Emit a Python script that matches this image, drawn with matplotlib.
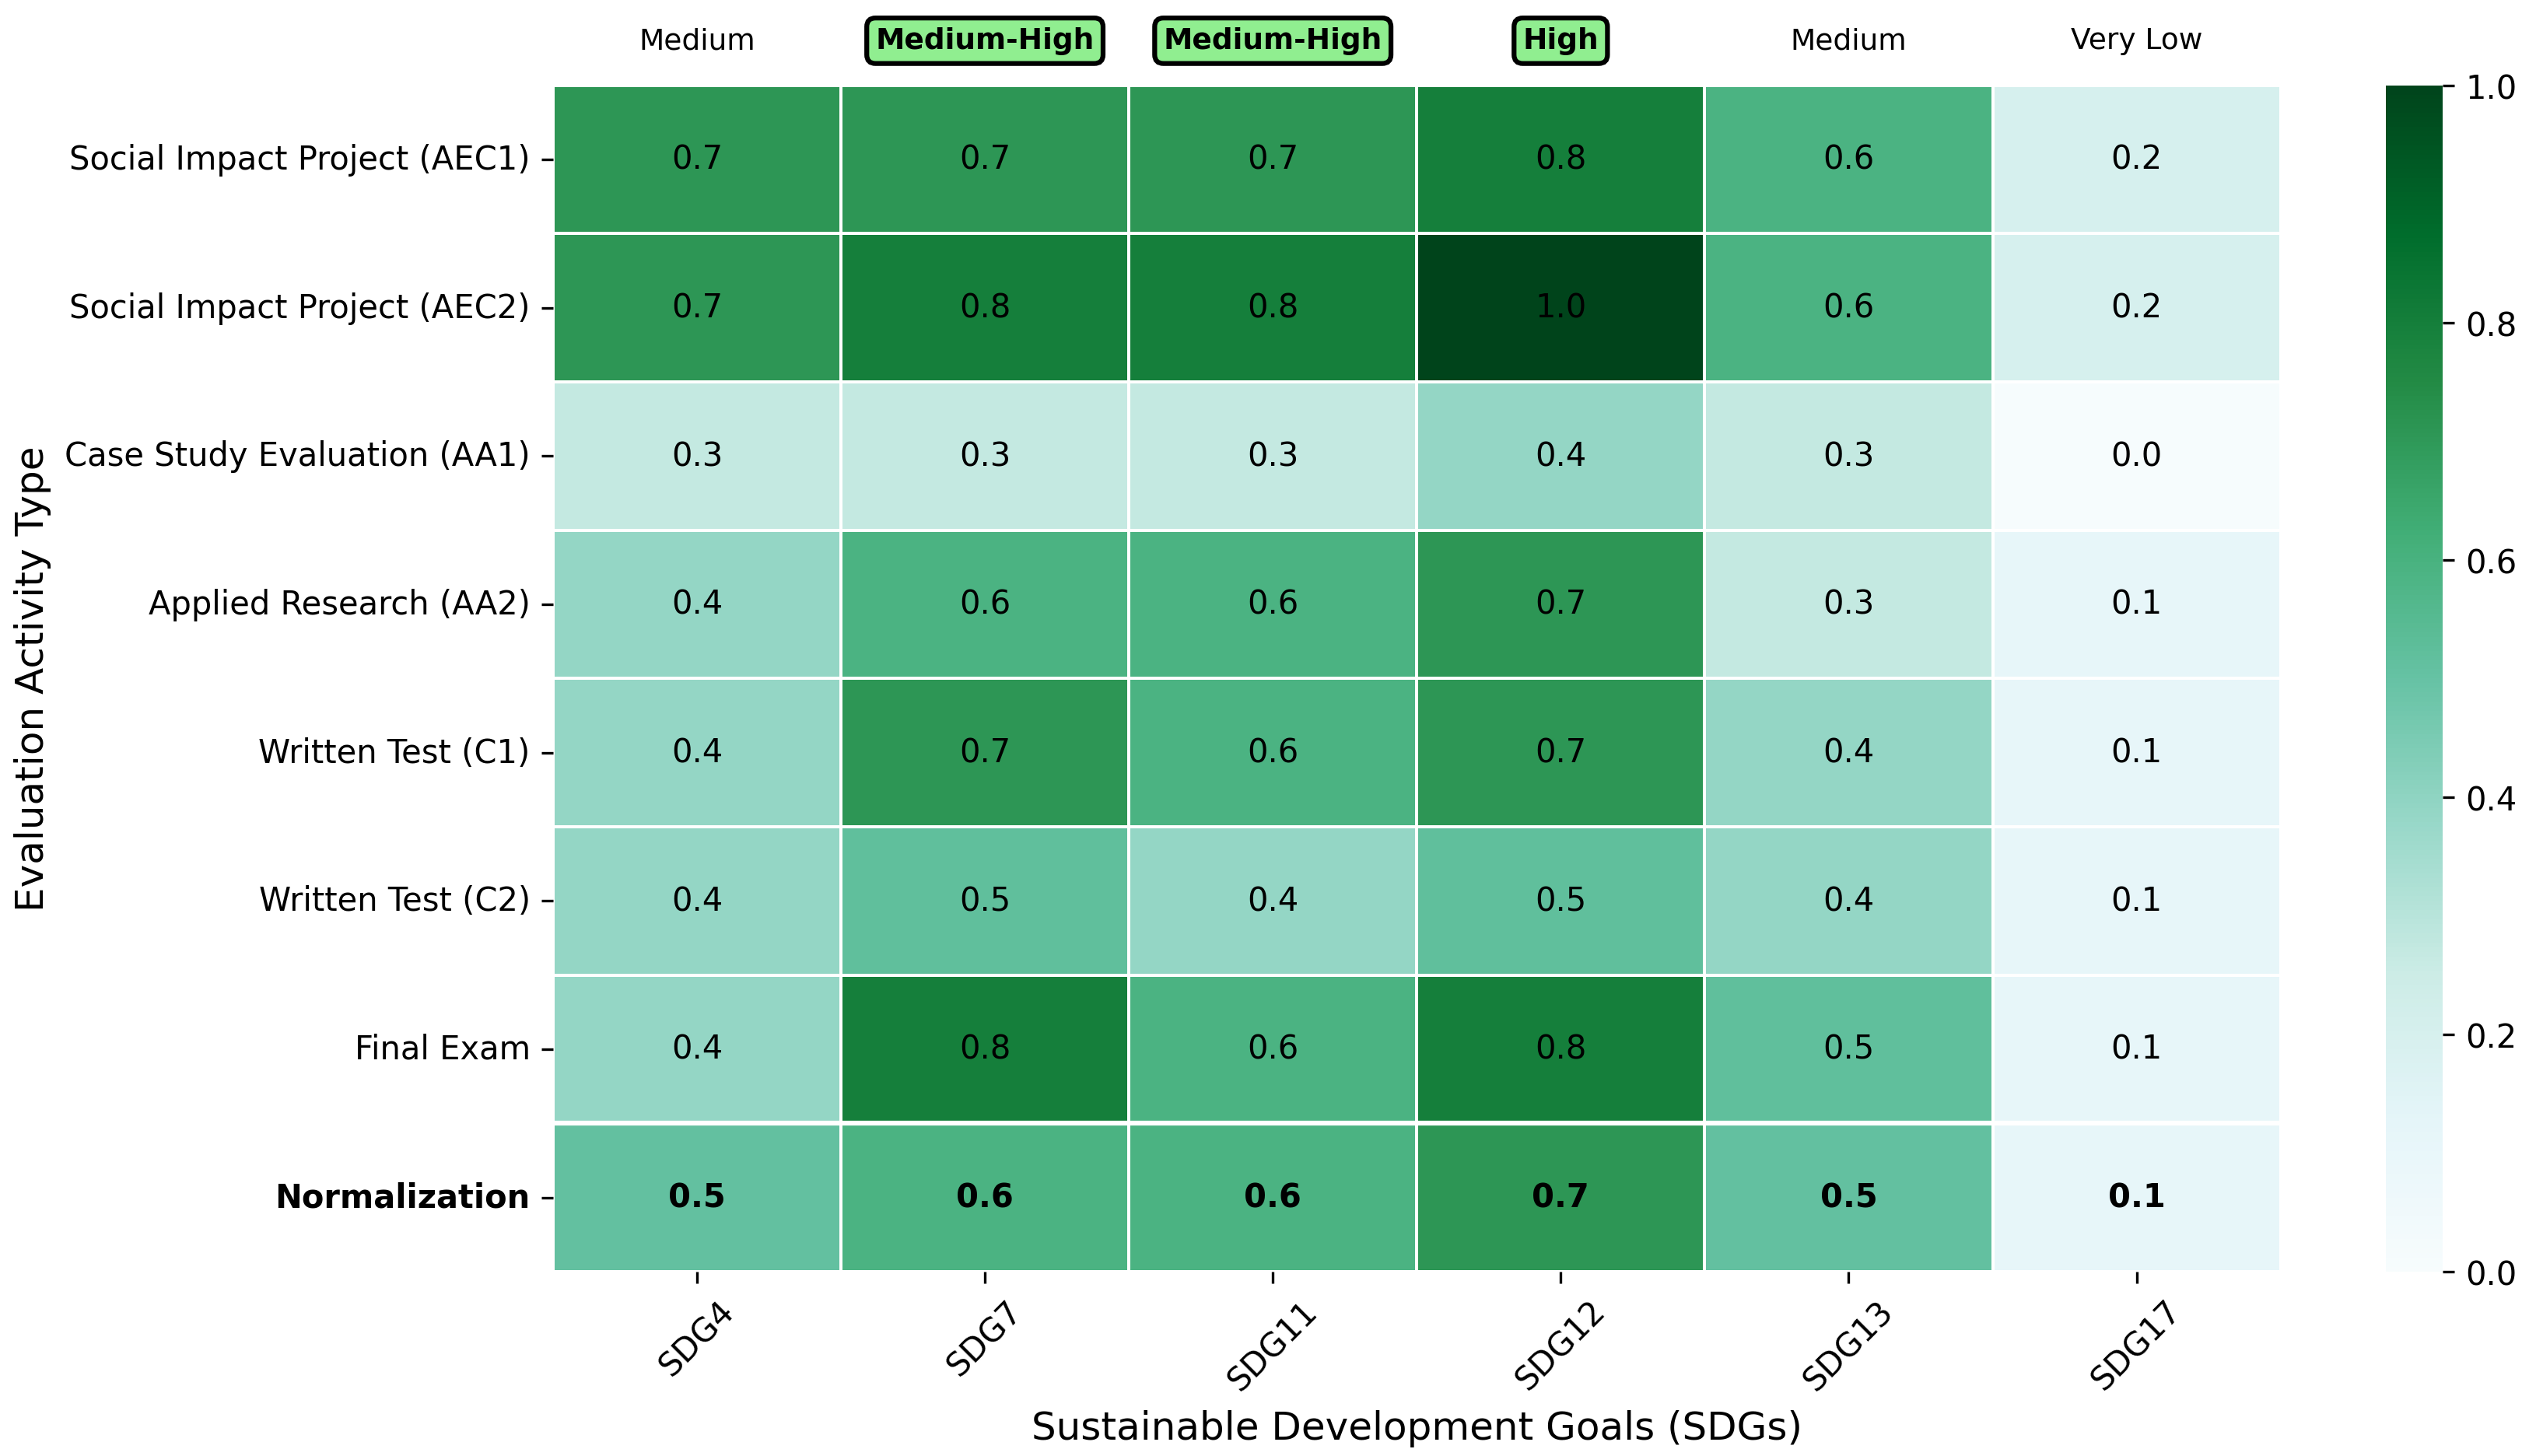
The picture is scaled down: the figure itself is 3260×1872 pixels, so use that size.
import numpy as np
import pandas as pd
import matplotlib
matplotlib.use("Agg")
import matplotlib.pyplot as plt
import seaborn as sns

# datos
actividades = ['Social Impact Project (AEC1)', 'Social Impact Project (AEC2)',
               'Case Study Evaluation (AA1)', 'Applied Research (AA2)',
               'Written Test (C1)', 'Written Test (C2)', 'Final Exam', 'Normalization']
ods = ['SDG4', 'SDG7', 'SDG11', 'SDG12', 'SDG13', 'SDG17']

aec1 = [0.71, 0.71, 0.71, 0.80, 0.59, 0.20]
aec2 = [0.71, 0.80, 0.80, 1.00, 0.59, 0.20]
aa1 = [0.27, 0.27, 0.27, 0.39, 0.27, 0.01]
aa2 = [0.39, 0.59, 0.59, 0.71, 0.27, 0.11]
c1 = [0.39, 0.71, 0.59, 0.71, 0.39, 0.11]
c2 = [0.39, 0.52, 0.39, 0.52, 0.39, 0.11]
final = [0.39, 0.80, 0.59, 0.80, 0.52, 0.11]
normalizacion = [0.51, 0.59, 0.59, 0.71, 0.51, 0.11]

niveles = ['Medium', 'Medium-High', 'Medium-High', 'High', 'Medium', 'Very Low']
destacados = ['Medium-High', 'High']

dados = pd.DataFrame([aec1, aec2, aa1, aa2, c1, c2, final, normalizacion],
                     index=actividades, columns=ods)

fig = plt.figure(figsize=(10.87, 6.243), dpi=300)
ax = fig.add_axes([0.218, 0.1265, 0.681, 0.8145])
cax = fig.add_axes([0.9405, 0.1265, 0.0225, 0.8145])

sns.heatmap(dados, ax=ax, cbar_ax=cax, cmap='BuGn', vmin=0, vmax=1,
            annot=True, fmt='.1f', linewidths=0.5, linecolor='white',
            annot_kws={'fontsize': 10, 'color': 'black'})

# fila de normalizacion en negrita
for t in ax.texts[-len(ods):]:
    t.set_fontweight('bold')
ax.axhline(len(actividades) - 1, color='white', linewidth=1.5)

ax.set_yticklabels(actividades, rotation=0, fontsize=10)
ax.get_yticklabels()[-1].set_fontweight('bold')
ax.set_xticklabels(ods, rotation=45, fontsize=10)

ax.set_xlabel('Sustainable Development Goals (SDGs)', fontsize=12)
ax.set_ylabel('Evaluation Activity Type', fontsize=12)

# niveles de impacto arriba
for j, nivel in enumerate(niveles):
    if nivel in destacados:
        ax.text(j + 0.5, -0.3, nivel, ha='center', va='center', fontsize=9,
                fontweight='bold',
                bbox=dict(boxstyle='round,pad=0.3', facecolor='lightgreen',
                          edgecolor='black', linewidth=1.5))
    else:
        ax.text(j + 0.5, -0.3, nivel, ha='center', va='center', fontsize=9)

cax.tick_params(labelsize=10)

plt.savefig('out.png', dpi=300)
